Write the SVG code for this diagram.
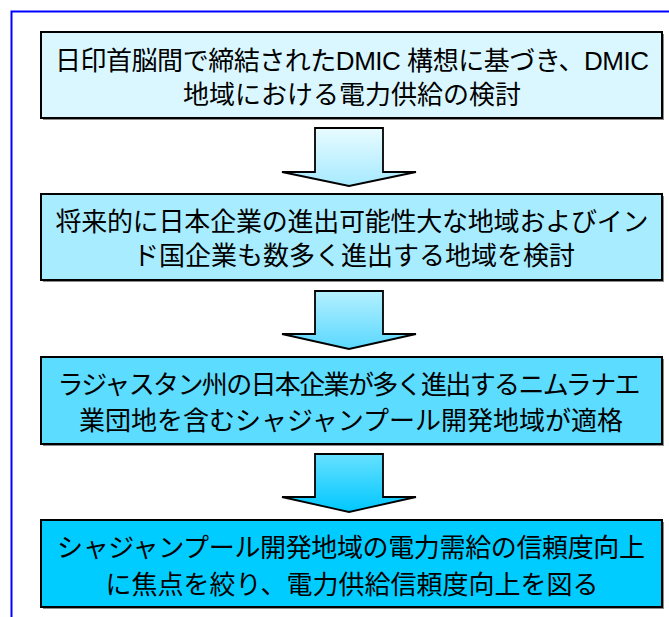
<svg xmlns="http://www.w3.org/2000/svg" width="669" height="617" viewBox="0 0 669 617">
<defs>
<linearGradient id="g1" x1="0" y1="0" x2="0" y2="1"><stop offset="0" stop-color="#E8FBFF"/><stop offset="1" stop-color="#A6EAFF"/></linearGradient>
<linearGradient id="g2" x1="0" y1="0" x2="0" y2="1"><stop offset="0" stop-color="#B4F0FF"/><stop offset="1" stop-color="#5AD8FF"/></linearGradient>
<linearGradient id="g3" x1="0" y1="0" x2="0" y2="1"><stop offset="0" stop-color="#66E0FF"/><stop offset="1" stop-color="#00C8FF"/></linearGradient>
</defs>
<style>
.frame{fill:none;stroke:#0000FF;stroke-width:2}
.box{stroke:#000;stroke-width:2}
.shadow{fill:#8C8C8C}
.arrow{stroke:#000;stroke-width:1.8;stroke-linejoin:miter}
.t{font-family:"Liberation Sans","Noto Sans CJK JP",sans-serif;font-size:26px;fill:#000;text-anchor:middle}
</style>
<rect class="frame" x="11.5" y="11.5" width="700" height="700"/>
<g id="connectors">
<polygon class="arrow" fill="url(#g1)" points="315,128 383,128 383,172 416,172 349,186 282,172 315,172"/>
<polygon class="arrow" fill="url(#g2)" points="315,291 383,291 383,334 416,334 349,349 282,334 315,334"/>
<polygon class="arrow" fill="url(#g3)" points="315,454 383,454 383,497 416,497 349,512 282,497 315,497"/>
</g>
<g id="node1">
<rect class="shadow" x="43" y="34" width="621" height="86"/>
<rect class="box" fill="#DAF7FF" x="41" y="32" width="621" height="86"/>
<text class="t" x="352" y="70" textLength="594" lengthAdjust="spacing">日印首脳間で締結されたDMIC 構想に基づき、DMIC</text>
<text class="t" x="352" y="104">地域における電力供給の検討</text>
</g>
<g id="node2">
<rect class="shadow" x="43" y="196" width="621" height="86"/>
<rect class="box" fill="#A8ECFF" x="41" y="194" width="621" height="86"/>
<text class="t" x="352" y="231" textLength="593" lengthAdjust="spacing">将来的に日本企業の進出可能性大な地域およびイン</text>
<text class="t" x="354" y="265">ド国企業も数多く進出する地域を検討</text>
</g>
<g id="node3">
<rect class="shadow" x="43" y="359" width="621" height="87"/>
<rect class="box" fill="#5CDCFF" x="41" y="357" width="621" height="87"/>
<text class="t" x="349" y="394" textLength="583" lengthAdjust="spacing">ラジャスタン州の日本企業が多く進出するニムラナエ</text>
<text class="t" x="351" y="430">業団地を含むシャジャンプール開発地域が適格</text>
</g>
<g id="node4">
<rect class="shadow" x="43" y="522" width="621" height="87"/>
<rect class="box" fill="#00CCFF" x="41" y="520" width="621" height="87"/>
<text class="t" x="351" y="557" textLength="588" lengthAdjust="spacing">シャジャンプール開発地域の電力需給の信頼度向上</text>
<text class="t" x="352" y="594">に焦点を絞り、電力供給信頼度向上を図る</text>
</g>
</svg>
